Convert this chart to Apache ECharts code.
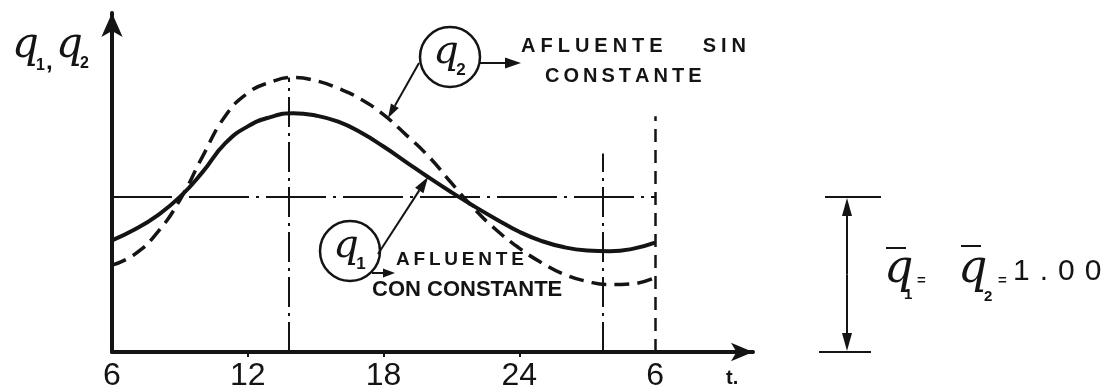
<!DOCTYPE html>
<html>
<head>
<meta charset="utf-8">
<script src="https://cdn.jsdelivr.net/npm/echarts@6/dist/echarts.min.js"></script>
<style>
  html, body { margin: 0; padding: 0; background: #fff; }
  #c { width: 1112px; height: 392px; }
</style>
</head>
<body>
<div id="c"></div>
<script>
// Hour of day, from 6 h to 6 h of the next day (written 6..30)
const hours = [6, 7, 8, 9, 10, 11, 12, 13, 14, 15, 16, 17, 18, 19, 20, 21, 22, 23, 24, 25, 26, 27, 28, 29, 30];
// q1: inflow with a constant component (solid curve)
const q1 = [0.72, 0.79, 0.88, 1.00, 1.16, 1.345, 1.455, 1.515, 1.54, 1.525, 1.485, 1.415, 1.325, 1.225, 1.125, 1.03, 0.94, 0.855, 0.775, 0.715, 0.675, 0.655, 0.65, 0.665, 0.705];
// q2: inflow without a constant component (dashed curve)
const q2 = [0.56, 0.63, 0.77, 0.98, 1.26, 1.52, 1.67, 1.74, 1.77, 1.75, 1.70, 1.63, 1.53, 1.40, 1.26, 1.09, 0.925, 0.785, 0.67, 0.575, 0.50, 0.455, 0.435, 0.44, 0.48];
// Mean of both inflows
const meanValue = 1.00;
// Axis labels
const tickHours = [6, 12, 18, 24, 30];
const tickLabels = ['6', '12', '18', '24', '6'];
const minorTickHours = [12, 18, 24];
// Reference verticals: hour and the value they reach
const guideHours = [13.8, 27.7, 30];
const guideTops = [1.77, 1.28, 1.52];

const INK = '#141414';
const LETTER_FONT = '"Liberation Sans", "DejaVu Sans", sans-serif';
const Q_FONT = '"DejaVu Serif", "Liberation Serif", serif';

const spaced = (s, sp) => s.split('').join(sp);

const chart = echarts.init(document.getElementById('c'), null, { renderer: 'canvas' });

const dashDot = [30, 6, 3, 6];

chart.setOption({
  animation: false,
  backgroundColor: '#ffffff',
  grid: { left: 112, right: 359, top: 13, bottom: 38, containLabel: false },
  xAxis: {
    type: 'value',
    min: 6,
    max: 34.33,
    interval: 6,
    axisLine: {
      show: true,
      symbol: ['none', 'arrow'],
      symbolSize: [14, 22],
      lineStyle: { color: INK, width: 4 }
    },
    axisTick: {
      show: true,
      customValues: minorTickHours,
      length: 5,
      lineStyle: { color: INK, width: 2 }
    },
    axisLabel: {
      customValues: tickHours,
      margin: 8,
      fontSize: 32,
      fontFamily: LETTER_FONT,
      color: INK,
      formatter: v => {
        const i = tickHours.indexOf(Math.round(v * 100) / 100);
        return i >= 0 ? tickLabels[i] : '';
      }
    },
    splitLine: { show: false }
  },
  yAxis: {
    type: 'value',
    min: 0,
    max: 2.186,
    axisLine: {
      show: true,
      symbol: ['none', 'arrow'],
      symbolSize: [16, 24],
      lineStyle: { color: INK, width: 4 }
    },
    axisTick: { show: false },
    axisLabel: { show: false },
    splitLine: { show: false }
  },
  series: [
    {
      name: 'q1',
      type: 'line',
      data: hours.map((h, i) => [h, q1[i]]),
      smooth: 0.5,
      showSymbol: false,
      z: 4,
      lineStyle: { color: INK, width: 4 },
      markLine: {
        silent: true,
        symbol: ['none', 'none'],
        label: { show: false },
        data: [
          [
            { coord: [hours[0], meanValue], lineStyle: { type: [60, 7, 3, 7], width: 2, color: INK } },
            { coord: [guideHours[2], meanValue] }
          ],
          [
            { coord: [guideHours[0], 0], lineStyle: { type: dashDot, width: 2, color: INK } },
            { coord: [guideHours[0], guideTops[0]] }
          ],
          [
            { coord: [guideHours[1], 0], lineStyle: { type: dashDot, width: 2, color: INK } },
            { coord: [guideHours[1], guideTops[1]] }
          ],
          [
            { coord: [guideHours[2], 0], lineStyle: { type: [13, 8], width: 2.5, color: INK } },
            { coord: [guideHours[2], guideTops[2]] }
          ]
        ]
      }
    },
    {
      name: 'q2',
      type: 'line',
      data: hours.map((h, i) => [h, q2[i]]),
      smooth: 0.5,
      showSymbol: false,
      z: 4,
      lineStyle: { color: INK, width: 3.5, type: [15, 8] }
    }
  ]
});

// Straight line ending in a filled arrow head at (x2, y2)
function arrow(x1, y1, x2, y2, headW, headL, lw) {
  const dx = x2 - x1, dy = y2 - y1;
  const len = Math.hypot(dx, dy);
  const ux = dx / len, uy = dy / len;
  const nx = -uy, ny = ux;
  const bx = x2 - ux * headL, by = y2 - uy * headL;
  return [
    { type: 'line', shape: { x1, y1, x2: bx, y2: by }, style: { stroke: INK, lineWidth: lw } },
    {
      type: 'polygon',
      shape: { points: [[x2, y2], [bx + nx * headW / 2, by + ny * headW / 2], [bx - nx * headW / 2, by - ny * headW / 2]] },
      style: { fill: INK }
    }
  ];
}

function text(str, x, y, font, opts) {
  return {
    type: 'text', x, y,
    style: Object.assign({ text: str, font, fill: INK, align: 'left', verticalAlign: 'middle' }, opts || {})
  };
}

// Circled variable name: q with a subscript
function circledQ(cx, cy, sub) {
  return [
    { type: 'circle', shape: { cx, cy, r: 30 }, style: { fill: 'none', stroke: INK, lineWidth: 2.5 } },
    text('q', cx - 4, cy - 4, 'italic 40px ' + Q_FONT, { align: 'center' }),
    text(sub, cx + 11, cy + 13, 'bold 17px ' + LETTER_FONT, { align: 'center' })
  ];
}

const yMean = chart.convertToPixel({ yAxisIndex: 0 }, meanValue);
const yZero = chart.convertToPixel({ yAxisIndex: 0 }, 0);

const g = [];

// Axis titles
g.push(text('q', 12, 46, 'italic 42px ' + Q_FONT));
g.push(text('1', 36, 66, 'bold 16px ' + LETTER_FONT));
g.push(text(',', 46, 62, 'bold 24px ' + LETTER_FONT));
g.push(text('q', 56, 46, 'italic 42px ' + Q_FONT));
g.push(text('2', 80, 64, 'bold 16px ' + LETTER_FONT));
g.push(text('t.', 726, 378, 'bold 20px ' + LETTER_FONT));

// q2 annotation
g.push(...circledQ(450, 57, '2'));
g.push(...arrow(419, 63, 388, 118, 9, 14, 2));
g.push(...arrow(480, 63, 521, 63, 11, 16, 2));
g.push(text(spaced('AFLUENTE', '\u2005') + '\u2003\u2003' + spaced('SIN', '\u2005'), 521, 46, 'bold 20px ' + LETTER_FONT));
g.push(text(spaced('CONSTANTE', '\u2009'), 545, 76, 'bold 20px ' + LETTER_FONT));

// q1 annotation
g.push(...circledQ(350, 251, '1'));
g.push(...arrow(378, 254, 428, 177, 10, 16, 2));
g.push(...arrow(372, 273, 395, 273, 9, 12, 2));
g.push(text(spaced('AFLUENTE', '\u2009'), 396, 260, 'bold 19px ' + LETTER_FONT));
g.push(text('CON CONSTANTE', 372, 290, 'bold 22px ' + LETTER_FONT));

// Mean level bracket
g.push({ type: 'line', shape: { x1: 825, y1: yMean, x2: 881, y2: yMean }, style: { stroke: INK, lineWidth: 2 } });
g.push({ type: 'line', shape: { x1: 819, y1: yZero, x2: 871, y2: yZero }, style: { stroke: INK, lineWidth: 2 } });
g.push(...arrow(847, (yMean + yZero) / 2, 847, yMean + 1, 10, 18, 2));
g.push(...arrow(847, (yMean + yZero) / 2, 847, yZero - 1, 10, 18, 2));

// q̄1 = q̄2 = 1.00
g.push(text('q', 884, 270, 'italic 46px ' + Q_FONT));
g.push({ type: 'line', shape: { x1: 886, y1: 248, x2: 906, y2: 248 }, style: { stroke: INK, lineWidth: 2 } });
g.push(text('1', 904, 295, 'bold 15px ' + LETTER_FONT));
g.push(text('=', 917, 281, 'bold 15px ' + LETTER_FONT));
g.push(text('q', 958, 270, 'italic 46px ' + Q_FONT));
g.push({ type: 'line', shape: { x1: 961, y1: 246, x2: 981, y2: 246 }, style: { stroke: INK, lineWidth: 2 } });
g.push(text('2', 984, 297, 'bold 15px ' + LETTER_FONT));
g.push(text('=', 998, 281, 'bold 15px ' + LETTER_FONT));
g.push(text(spaced(meanValue.toFixed(2), '\u2004'), 1013, 272, '30px ' + LETTER_FONT));

chart.setOption({ graphic: { elements: g } });
</script>
</body>
</html>
